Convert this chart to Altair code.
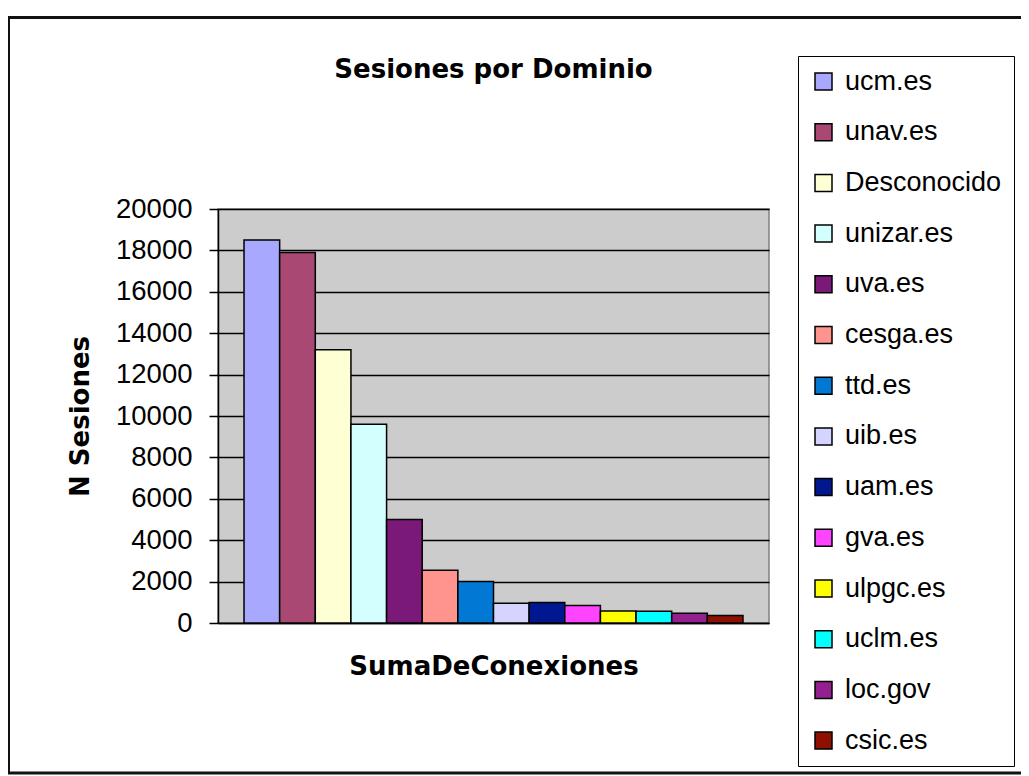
import altair as alt
import pandas as pd

dominios = ["ucm.es", "unav.es", "Desconocido", "unizar.es", "uva.es", "cesga.es",
            "ttd.es", "uib.es", "uam.es", "gva.es", "ulpgc.es", "uclm.es", "loc.gov", "csic.es"]
sesiones = [18500, 17900, 13200, 9600, 5000, 2550, 2000, 960, 990, 850, 580, 570, 470, 360]
colores = ["#A8A8FF", "#A94973", "#FFFFD4", "#D4FFFF", "#7B1978", "#FF948F", "#0078D4",
           "#D4D4FF", "#00188F", "#FF44FF", "#FFFF00", "#00FFFF", "#94208F", "#8F1000"]
ticks_y = list(range(0, 20001, 2000))

df = pd.DataFrame({"Dominio": dominios, "Sesiones": sesiones})

PW, PH = 551, 414

bars = alt.Chart(df).mark_bar(stroke="black", strokeWidth=1.5).encode(
    x=alt.X("Dominio:N", sort=dominios,
            scale=alt.Scale(paddingInner=0, paddingOuter=0.73),
            axis=alt.Axis(title="SumaDeConexiones", labels=False, ticks=False, grid=False,
                          domainColor="black", domainWidth=1.5,
                          titleFont="DejaVu Sans", titleFontSize=26, titleFontWeight="bold",
                          titleColor="black", titleY=51, titleBaseline="alphabetic")),
    y=alt.Y("Sesiones:Q", scale=alt.Scale(domain=[0, 20000], nice=False),
            axis=alt.Axis(title="N Sesiones", values=ticks_y, format="d", grid=True,
                          gridColor="black", gridWidth=1.5, gridOpacity=1,
                          domainColor="black", domainWidth=1.5,
                          tickColor="black", tickWidth=1.5, tickSize=9,
                          labelFont="Liberation Sans", labelFontSize=27.5, labelColor="black",
                          labelPadding=17,
                          titleFont="DejaVu Sans", titleFontSize=26, titleFontWeight="bold",
                          titleColor="black", titleAngle=-90, titleX=-130, titleY=PH / 2,
                          titleAlign="center", titleBaseline="alphabetic")),
    color=alt.Color("Dominio:N", sort=dominios,
                    scale=alt.Scale(domain=dominios, range=colores),
                    legend=alt.Legend(title=None, orient="none", legendX=580, legendY=-153,
                                      direction="vertical", columns=1,
                                      symbolType="square", symbolSize=289,
                                      symbolStrokeColor="black", symbolStrokeWidth=1.5,
                                      labelFont="Liberation Sans", labelFontSize=27,
                                      labelColor="black", labelOffset=8,
                                      rowPadding=22.7, padding=12,
                                      strokeColor="black", fillColor="white",
                                      labelLimit=300)),
)

frame = alt.Chart(alt.Data(values=[{"a": 1}])).mark_rect(
    fill=None, stroke="#111111", strokeWidth=3, clip=False
).encode(
    x=alt.value(-209.5), x2=alt.value(830),
    y=alt.value(-191.5), y2=alt.value(564),
)

chart = alt.layer(frame, bars).properties(
    width=PW, height=PH,
    title=alt.TitleParams("Sesiones por Dominio", font="DejaVu Sans", fontSize=26,
                          fontWeight="bold", color="black", anchor="middle",
                          frame="group", offset=-88, baseline="alphabetic"),
    autosize=alt.AutoSizeParams(type="none"),
    padding={"left": 210, "top": 201, "right": 252, "bottom": 153},
    background="white",
).configure_view(
    fill="#CCCCCC", stroke="#808080", strokeWidth=1.5
)

chart.save("out.html", embed_options={"renderer": "svg", "actions": False})
